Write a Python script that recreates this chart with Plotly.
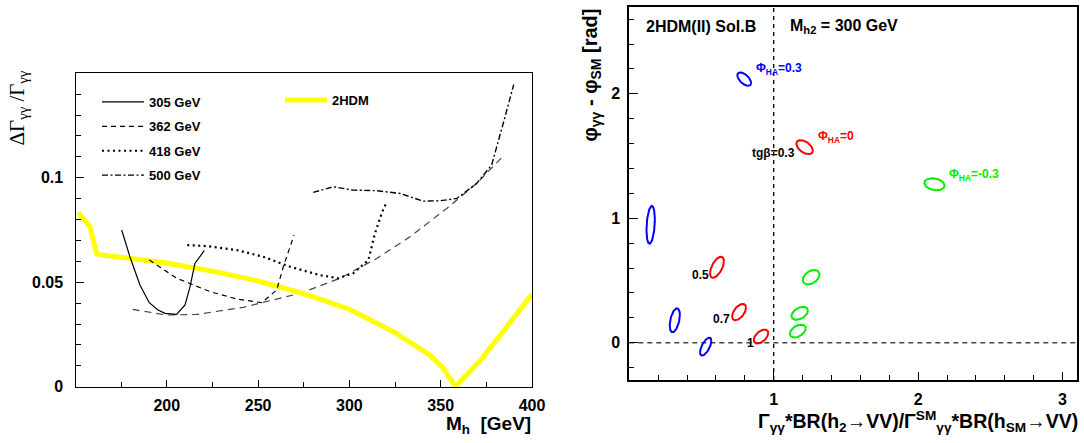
import numpy as np
import plotly.graph_objects as go

# ---------------- Left panel data ----------------
m_2hdm = [151.5, 157.9, 159.7, 161.6, 163.0, 180, 200, 225, 250, 275, 300, 325, 344, 351.5, 358, 372, 385, 400]
r_2hdm = [0.0833, 0.0766, 0.0702, 0.0638, 0.0632, 0.0614, 0.0592, 0.0553, 0.0506, 0.0445, 0.0371, 0.0259, 0.0152, 0.0088, 0.0, 0.0128, 0.0272, 0.0442]

m_305 = [175.3, 179.8, 185.3, 190.4, 195.0, 199.0, 205.4, 210.0, 212.7, 215.4, 220.5]
r_305 = [0.0750, 0.0622, 0.0487, 0.0402, 0.0368, 0.0351, 0.0346, 0.0391, 0.0478, 0.0590, 0.0651]

m_362 = [190.4, 205.4, 223.7, 238.3, 252.0, 260.2, 263.8, 269.7]
r_362 = [0.0606, 0.0519, 0.0455, 0.0420, 0.0402, 0.0463, 0.0574, 0.0726]

m_env = [181.3, 199.9, 216.4, 241.9, 273.0, 294.9, 315.0, 333.2, 353.3, 369.7, 383.8]
r_env = [0.0370, 0.0343, 0.0346, 0.0380, 0.0447, 0.0519, 0.0614, 0.0718, 0.0853, 0.0973, 0.1100]

m_418 = [211.2, 221.8, 238.3, 252.8, 267.5, 278.0, 283.9, 293.9, 302.1, 310.4, 314.0, 317.7, 320.4]
r_418 = [0.0678, 0.0673, 0.0654, 0.0622, 0.0574, 0.0550, 0.0534, 0.0519, 0.0543, 0.0606, 0.0734, 0.0830, 0.0885]

m_500 = [280.2, 291.2, 302.1, 315.0, 327.7, 340.5, 349.6, 358.8, 369.7, 377.9, 385.3, 390.0]
r_500 = [0.0930, 0.0957, 0.0941, 0.0938, 0.0925, 0.0888, 0.0890, 0.0901, 0.0973, 0.1061, 0.1294, 0.1446]

left_yticks = [0, 0.05, 0.1]
left_yticktext = ["0", "0.05", "0.1"]
left_xticks = [200, 250, 300, 350, 400]

# ---------------- Right panel data ----------------
tgb_labels = ["0.3", "0.5", "0.7", "1"]
# Phi_HA = 0.3 (blue)
blue_x = [0.796, 0.148, 0.315, 0.529]
blue_y = [2.118, 0.947, 0.180, -0.032]
blue_rx = [0.048, 0.029, 0.035, 0.039]
blue_ry = [0.054, 0.152, 0.096, 0.072]
blue_ph = [125, 74, 64, 50]
# Phi_HA = 0 (red)
red_x = [1.214, 0.607, 0.760, 0.912]
red_y = [1.571, 0.606, 0.246, 0.049]
red_rx = [0.057, 0.048, 0.048, 0.050]
red_ry = [0.056, 0.085, 0.066, 0.056]
red_ph = [119, 55, 58, 60]
# Phi_HA = -0.3 (green)
green_x = [2.113, 1.259, 1.180, 1.167]
green_y = [1.273, 0.526, 0.236, 0.093]
green_rx = [0.070, 0.058, 0.057, 0.055]
green_ry = [0.048, 0.058, 0.052, 0.052]
green_ph = [103, 68, 66, 64]

right_xticks = [1, 2, 3]
right_yticks = [0, 1, 2]

FONT = "Liberation Sans"
W, H = 1084, 443


def ellipses(cx, cy, rx, ry, ph):
    t = np.linspace(0, 2 * np.pi, 121)
    xs, ys = [], []
    for a, b, c, d, p in zip(cx, cy, rx, ry, ph):
        xs += list(a + c * np.cos(t)) + [None]
        ys += list(b + d * np.cos(t + np.radians(p))) + [None]
    return xs, ys


fig = go.Figure()

# left panel curves
fig.add_trace(go.Scatter(x=m_env, y=r_env, mode="lines", showlegend=False,
                         line=dict(color="#444444", width=1.2, dash="7px,5px"), xaxis="x", yaxis="y"))
fig.add_trace(go.Scatter(x=m_2hdm, y=r_2hdm, mode="lines", name="2HDM", legend="legend2",
                         line=dict(color="#ffff00", width=5), xaxis="x", yaxis="y"))
fig.add_trace(go.Scatter(x=m_305, y=r_305, mode="lines", name="305 GeV", legendgroup="a",
                         line=dict(color="black", width=1.2), xaxis="x", yaxis="y"))
fig.add_trace(go.Scatter(x=m_362, y=r_362, mode="lines", name="362 GeV", legendgroup="b",
                         line=dict(color="black", width=1.2, dash="5px,4px"), xaxis="x", yaxis="y"))
fig.add_trace(go.Scatter(x=m_418, y=r_418, mode="lines", name="418 GeV", legendgroup="c",
                         line=dict(color="black", width=2.2, dash="2px,3.5px"), xaxis="x", yaxis="y"))
fig.add_trace(go.Scatter(x=m_500, y=r_500, mode="lines", name="500 GeV", legendgroup="d",
                         line=dict(color="black", width=1.4, dash="6px,2.5px,2px,2.5px"), xaxis="x", yaxis="y"))

# right panel ellipses
for cx, cy, rx, ry, ph, col in [
    (blue_x, blue_y, blue_rx, blue_ry, blue_ph, "#0000ff"),
    (red_x, red_y, red_rx, red_ry, red_ph, "#ff0000"),
    (green_x, green_y, green_rx, green_ry, green_ph, "#00ee00"),
]:
    ex, ey = ellipses(cx, cy, rx, ry, ph)
    fig.add_trace(go.Scatter(x=ex, y=ey, mode="lines", showlegend=False,
                             line=dict(color=col, width=2), xaxis="x2", yaxis="y2"))

# reference dashed lines
fig.add_shape(type="line", xref="x2", yref="y2 domain", x0=1, x1=1, y0=0, y1=1,
              line=dict(color="black", width=1.3, dash="4px,4px"), layer="below")
fig.add_shape(type="line", xref="x2 domain", yref="y2", x0=0, x1=1, y0=0, y1=0,
              line=dict(color="#444444", width=1.5, dash="5px,4px"), layer="below")

axis_common = dict(showline=True, mirror=True, linecolor="black", showgrid=False,
                   zeroline=False, ticks="inside", tickcolor="black", automargin=False,
                   tickfont=dict(family=FONT, size=16, color="black", weight="bold"))

fig.update_layout(
    template="none",
    width=W, height=H, margin=dict(l=0, r=0, t=0, b=0, pad=0, autoexpand=False),
    paper_bgcolor="white", plot_bgcolor="white",
    font=dict(family=FONT, color="black"),
    xaxis=dict(domain=[75.5 / W, 532 / W], range=[150, 400], anchor="y",
               tickvals=left_xticks, ticklen=7, linewidth=1.3, ticklabelstandoff=4,
               minor=dict(ticks="inside", ticklen=5, dtick=25, tick0=150, tickcolor="black"),
               **axis_common),
    yaxis=dict(domain=[(H - 386.7) / H, (H - 73.3) / H], range=[0, 0.15], anchor="x",
               tickvals=left_yticks, ticktext=left_yticktext, ticklen=8, linewidth=1.3,
               ticklabelstandoff=8,
               minor=dict(ticks="inside", ticklen=5, dtick=0.01, tick0=0, tickcolor="black"),
               **axis_common),
    xaxis2=dict(domain=[629.3 / W, 1077 / W], range=[0, 3.1], anchor="y2",
                tickvals=right_xticks, ticklen=8, linewidth=2, ticklabelstandoff=4,
                minor=dict(ticks="inside", ticklen=5, dtick=0.2, tick0=0, tickcolor="black"),
                **axis_common),
    yaxis2=dict(domain=[(H - 380) / H, (H - 6.7) / H], range=[-0.3, 2.7], anchor="x2",
                tickvals=right_yticks, ticklen=9, linewidth=2, ticklabelstandoff=4,
                minor=dict(ticks="inside", ticklen=5, dtick=0.2, tick0=0, tickcolor="black"),
                **axis_common),
    legend=dict(x=97 / W, y=(H - 87) / H, xanchor="left", yanchor="top",
                bgcolor="rgba(0,0,0,0)", itemwidth=42, tracegroupgap=4.5,
                font=dict(family=FONT, size=13, color="black", weight="bold")),
    legend2=dict(x=280 / W, y=(H - 85) / H, xanchor="left", yanchor="top",
                 bgcolor="rgba(0,0,0,0)", itemwidth=42,
                 font=dict(family=FONT, size=13, color="black", weight="bold")),
)

bold = dict(family=FONT, color="black", weight="bold")
ann = []
# left axis titles
ann.append(dict(xref="paper", yref="paper", x=17 / W, y=(H - 69) / H, xanchor="center", yanchor="top",
                text="ΔΓ<sub>γγ</sub> /Γ<sub>γγ</sub>", textangle=-90, showarrow=False,
                font=dict(family="Liberation Serif", size=21, color="black")))
ann.append(dict(xref="paper", yref="paper", x=533 / W, y=(H - 425) / H, xanchor="right", yanchor="middle",
                text="M<sub>h</sub>  [GeV]", showarrow=False, font=dict(size=19, **bold)))
# right axis titles
ann.append(dict(xref="paper", yref="paper", x=591 / W, y=(H - 7) / H, xanchor="center", yanchor="top",
                text="φ<sub>γγ</sub> - φ<sub>SM</sub> [rad]", textangle=-90, showarrow=False,
                font=dict(size=20, **bold)))
ann.append(dict(xref="paper", yref="paper", x=1080 / W, y=(H - 421) / H, xanchor="right", yanchor="middle",
                text="Γ<sub>γγ</sub>*BR(h<sub>2</sub>→VV)/Γ<sup>SM</sup><sub>γγ</sub>*BR(h<sub>SM</sub>→VV)",
                showarrow=False, font=dict(size=19.5, **bold)))
# right panel texts
ann.append(dict(xref="x2", yref="y2", x=0.10, y=2.54, xanchor="left", yanchor="middle",
                text="2HDM(II) Sol.B", showarrow=False, font=dict(size=16, **bold)))
ann.append(dict(xref="x2", yref="y2", x=1.10, y=2.54, xanchor="left", yanchor="middle",
                text="M<sub>h2</sub> = 300 GeV", showarrow=False, font=dict(size=16, **bold)))
ann.append(dict(xref="x2", yref="y2", x=0.862, y=2.20, xanchor="left", yanchor="middle",
                text="Φ<sub>HA</sub>=0.3", showarrow=False,
                font=dict(family=FONT, size=12, color="#0000ff", weight="bold")))
ann.append(dict(xref="x2", yref="y2", x=1.296, y=1.65, xanchor="left", yanchor="middle",
                text="Φ<sub>HA</sub>=0", showarrow=False,
                font=dict(family=FONT, size=12, color="#ff0000", weight="bold")))
ann.append(dict(xref="x2", yref="y2", x=2.202, y=1.345, xanchor="left", yanchor="middle",
                text="Φ<sub>HA</sub>=-0.3", showarrow=False,
                font=dict(family=FONT, size=12, color="#00ee00", weight="bold")))
lab_x = [0.834, 0.417, 0.569, 0.798]
lab_y = [1.524, 0.542, 0.188, -0.006]
for i, (lx, ly) in enumerate(zip(lab_x, lab_y)):
    txt = "tgβ=" + tgb_labels[i] if i == 0 else tgb_labels[i]
    ann.append(dict(xref="x2", yref="y2", x=lx, y=ly, xanchor="left", yanchor="middle",
                    text=txt, showarrow=False, font=dict(size=12, **bold)))
fig.update_layout(annotations=ann)

fig.write_html("out.html")
